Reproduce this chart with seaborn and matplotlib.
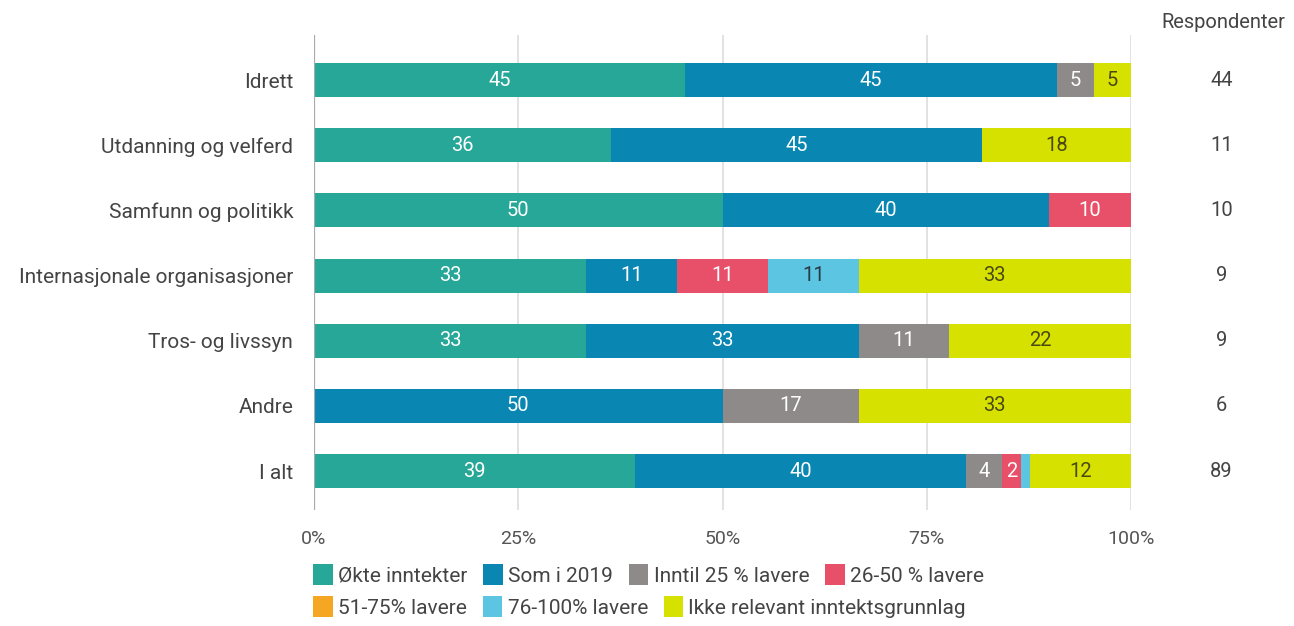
import numpy as np
import matplotlib
matplotlib.use('Agg')
import matplotlib.pyplot as plt
from matplotlib.patches import Patch
import seaborn as sns


groups = ['Idrett', 'Utdanning og velferd', 'Samfunn og politikk',
          'Internasjonale organisasjoner', 'Tros- og livssyn', 'Andre', 'I alt']
respondents = [44, 11, 10, 9, 9, 6, 89]

series = ['Økte inntekter', 'Som i 2019', 'Inntil 25 % lavere', '26-50 % lavere',
          '51-75% lavere', '76-100% lavere', 'Ikke relevant inntektsgrunnlag']

okte = [45.45, 36.36, 50.0, 33.33, 33.33, 0.0, 39.33]
som_2019 = [45.45, 45.45, 40.0, 11.11, 33.33, 50.0, 40.45]
inntil_25 = [4.55, 0.0, 0.0, 0.0, 11.11, 16.67, 4.49]
lavere_26_50 = [0.0, 0.0, 10.0, 11.11, 0.0, 0.0, 2.25]
lavere_51_75 = [0.0, 0.0, 0.0, 0.0, 0.0, 0.0, 0.0]
lavere_76_100 = [0.0, 0.0, 0.0, 11.11, 0.0, 0.0, 1.12]
ikke_relevant = [4.55, 18.18, 0.0, 33.33, 22.22, 33.33, 12.36]

colors = ['#27a797', '#0987b2', '#8e8a89', '#e84f68', '#f5a623', '#5cc6e2', '#d7e100']
label_colors = ['white', 'white', 'white', 'white', '#333333', '#2a3a45', '#4a4a10']

values = np.array([okte, som_2019, inntil_25, lavere_26_50,
                   lavere_51_75, lavere_76_100, ikke_relevant]).T
cum = values.cumsum(axis=1)

sns.set_style('white')
plt.rcParams['font.family'] = ['Roboto', 'DejaVu Sans']

fig = plt.figure(figsize=(12.94, 6.26), dpi=100)
ax = fig.add_axes([0.2427, 0.185, 0.6313, 0.759])

# stacked bars: draw cumulative totals from the back, widest first
for k in range(len(series) - 1, -1, -1):
    sns.barplot(x=cum[:, k], y=groups, orient='h', color=colors[k],
                saturation=1, width=0.52, errorbar=None, ax=ax, zorder=3,
                linewidth=0)

for i in range(len(groups)):
    for k in range(len(series)):
        v = values[i, k]
        if v >= 2:
            ax.text(cum[i, k] - v / 2, i, f'{v:.0f}', ha='center', va='center',
                    fontsize=14.5, color=label_colors[k], zorder=4)
    ax.text(1.111, i, str(respondents[i]), transform=ax.get_yaxis_transform(),
            ha='center', va='center', fontsize=14.5, color='#444444')

fig.text(1223 / 1294, 1 - 22 / 626, 'Respondenter', ha='center', va='center',
         fontsize=14.5, color='#444444')

ax.set_xlim(0, 100)
ax.set_ylim(6.6, -0.69)
ax.set_xticks([0, 25, 50, 75, 100])
ax.set_xticklabels(['0%', '25%', '50%', '75%', '100%'])
ax.tick_params(axis='x', length=0, pad=14, labelsize=14, labelcolor='#555555')
ax.tick_params(axis='y', length=0, pad=15, labelsize=15, labelcolor='#444444')
ax.set_xlabel('')
ax.set_ylabel('')
for x in [25, 50, 75, 100]:
    ax.axvline(x, color='#dddddd', lw=1.2, zorder=1)
ax.axvline(0, color='#aaaaaa', lw=1.6, zorder=5)
for s in ax.spines.values():
    s.set_visible(False)

handles = [Patch(facecolor=c, edgecolor='none') for c in colors]
leg_kw = dict(loc='center left', frameon=False, fontsize=15, handlelength=0.95,
              handleheight=1.15, handletextpad=0.25, columnspacing=0.75,
              borderpad=0, borderaxespad=0, labelcolor='#444444')
leg1 = fig.legend(handles[:4], series[:4], ncol=4,
                  bbox_to_anchor=(313 / 1294, 1 - 575 / 626), **leg_kw)
leg2 = fig.legend(handles[4:], series[4:], ncol=3,
                  bbox_to_anchor=(313 / 1294, 1 - 607 / 626), **leg_kw)

fig.savefig('out.png', dpi=100)
